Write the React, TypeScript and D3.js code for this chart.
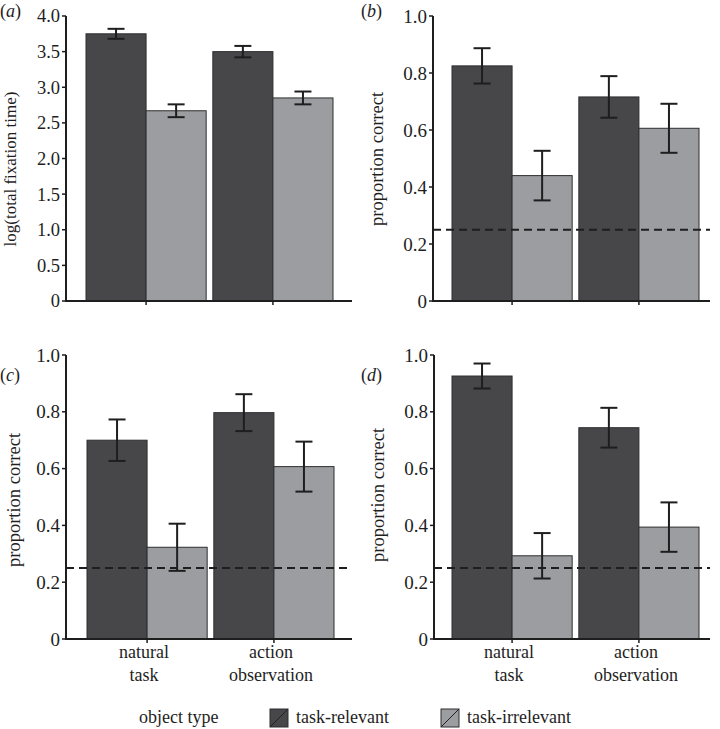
import React from "react";
import * as d3 from "d3";

const categories = ["natural task", "action observation"];
const seriesNames = ["task-relevant", "task-irrelevant"];

const aRelevant = [3.75, 3.5];
const aRelevantErr = [0.07, 0.08];
const aIrrelevant = [2.67, 2.85];
const aIrrelevantErr = [0.09, 0.09];

const bRelevant = [0.825, 0.716];
const bRelevantErr = [0.062, 0.073];
const bIrrelevant = [0.44, 0.606];
const bIrrelevantErr = [0.087, 0.086];

const cRelevant = [0.7, 0.797];
const cRelevantErr = [0.073, 0.065];
const cIrrelevant = [0.323, 0.607];
const cIrrelevantErr = [0.083, 0.088];

const dRelevant = [0.926, 0.744];
const dRelevantErr = [0.044, 0.07];
const dIrrelevant = [0.293, 0.394];
const dIrrelevantErr = [0.08, 0.087];

const ticksA = [0, 0.5, 1, 1.5, 2, 2.5, 3, 3.5, 4];
const ticksP = [0, 0.2, 0.4, 0.6, 0.8, 1.0];
const chanceLevel = 0.25;

const DARK = "#47474a";
const LIGHT = "#9c9da0";
const INK = "#1e1e1e";
const FONT = "Liberation Serif, DejaVu Serif, serif";

type PanelProps = {
  label: string;
  yLabel: string;
  yLabelX: number;
  yLabelY: number;
  yLabelSize: number;
  tickSize: number;
  rel: number[];
  relErr: number[];
  irr: number[];
  irrErr: number[];
  ticks: number[];
  yMax: number;
  axisX: number;
  axisRight: number;
  barStart: number;
  yTop: number;
  yBottom: number;
  labelX: number;
  labelY: number;
  chance?: boolean;
  xLabels?: boolean;
};

const st = (size: number) => ({ fontFamily: FONT, fontSize: `${size}px` });

function Panel(p: PanelProps) {
  const y = d3.scaleLinear().domain([0, p.yMax]).range([p.yBottom, p.yTop]);
  const groupW = 117;
  const gap = 13;
  const x0 = d3
    .scaleBand<string>()
    .domain(categories)
    .range([p.barStart, p.barStart + 2 * groupW + gap])
    .paddingInner(gap / (groupW + gap / 2) / 2)
    .paddingOuter(0);
  const x1 = d3.scaleBand<string>().domain(seriesNames).range([0, x0.bandwidth()]);
  const values = [p.rel, p.irr];
  const errs = [p.relErr, p.irrErr];
  const colors = [DARK, LIGHT];
  const fmt = (v: number) => (v === 0 ? "0" : d3.format(".1f")(v));
  const capHalf = 8.5;
  return (
    <g>
      <text x={p.labelX} y={p.labelY} style={st(18)} fill={INK}>
        (<tspan fontStyle="italic">{p.label}</tspan>)
      </text>
      <text
        transform={`translate(${p.yLabelX},${p.yLabelY}) rotate(-90)`}
        textAnchor="middle"
        style={st(p.yLabelSize)}
        fill={INK}
      >
        {p.yLabel}
      </text>
      {categories.map((c, ci) =>
        seriesNames.map((s, si) => {
          const bx = (x0(c) as number) + (x1(s) as number);
          const v = values[si][ci];
          return (
            <rect
              key={c + s}
              x={bx}
              y={y(v)}
              width={x1.bandwidth()}
              height={y(0) - y(v)}
              fill={colors[si]}
              stroke="#2e2e30"
              strokeWidth={1}
            />
          );
        })
      )}
      {p.chance && (
        <line
          x1={p.axisX}
          x2={p.axisRight}
          y1={y(chanceLevel)}
          y2={y(chanceLevel)}
          stroke={INK}
          strokeWidth={2}
          strokeDasharray="8,5"
        />
      )}
      {categories.map((c, ci) =>
        seriesNames.map((s, si) => {
          const cx = (x0(c) as number) + (x1(s) as number) + x1.bandwidth() / 2;
          const v = values[si][ci];
          const e = errs[si][ci];
          return (
            <g key={"e" + c + s} stroke={INK} strokeWidth={2}>
              <line x1={cx} x2={cx} y1={y(v + e)} y2={y(v - e)} />
              <line x1={cx - capHalf} x2={cx + capHalf} y1={y(v + e)} y2={y(v + e)} />
              <line x1={cx - capHalf} x2={cx + capHalf} y1={y(v - e)} y2={y(v - e)} />
            </g>
          );
        })
      )}
      <line x1={p.axisX} x2={p.axisX} y1={p.yTop} y2={p.yBottom + 1} stroke={INK} strokeWidth={2} />
      <line x1={p.axisX - 1} x2={p.axisRight} y1={p.yBottom} y2={p.yBottom} stroke={INK} strokeWidth={2} />
      {p.ticks.map((t) => (
        <g key={"t" + t}>
          <line x1={p.axisX - 4} x2={p.axisX} y1={y(t)} y2={y(t)} stroke={INK} strokeWidth={1.5} />
          <text
            x={p.axisX - 6}
            y={y(t)}
            dy="0.35em"
            textAnchor="end"
            style={st(p.tickSize)}
            fill={INK}
          >
            {fmt(t)}
          </text>
        </g>
      ))}
      {categories.map((c) => {
        const cx = (x0(c) as number) + x0.bandwidth() / 2;
        const words = c.split(" ");
        return (
          <g key={"x" + c}>
            <line x1={cx} x2={cx} y1={p.yBottom} y2={p.yBottom + 4} stroke={INK} strokeWidth={1.5} />
            {p.xLabels &&
              words.map((w, wi) => (
                <text
                  key={w}
                  x={cx - 3}
                  y={p.yBottom + 19 + wi * 23}
                  textAnchor="middle"
                  style={st(18)}
                  fill={INK}
                >
                  {w}
                </text>
              ))}
          </g>
        );
      })}
    </g>
  );
}

export default function App() {
  return (
    <svg width={720} height={729} style={{ position: "absolute", left: 0, top: 0, background: "#fff" }}>
      <Panel
        label="a"
        labelX={0}
        labelY={17}
        yLabel="log(total fixation time)"
        yLabelX={16}
        yLabelY={169}
        yLabelSize={17}
        tickSize={18.5}
        rel={aRelevant}
        relErr={aRelevantErr}
        irr={aIrrelevant}
        irrErr={aIrrelevantErr}
        ticks={ticksA}
        yMax={4}
        axisX={66}
        axisRight={352}
        barStart={86}
        yTop={16}
        yBottom={301}
      />
      <Panel
        label="b"
        labelX={361}
        labelY={17}
        yLabel="proportion correct"
        yLabelX={383}
        yLabelY={159}
        yLabelSize={18.5}
        tickSize={19}
        rel={bRelevant}
        relErr={bRelevantErr}
        irr={bIrrelevant}
        irrErr={bIrrelevantErr}
        ticks={ticksP}
        yMax={1}
        axisX={433}
        axisRight={710}
        barStart={452}
        yTop={16}
        yBottom={301}
        chance
      />
      <Panel
        label="c"
        labelX={0}
        labelY={381}
        yLabel="proportion correct"
        yLabelX={20}
        yLabelY={500}
        yLabelSize={18.5}
        tickSize={19}
        rel={cRelevant}
        relErr={cRelevantErr}
        irr={cIrrelevant}
        irrErr={cIrrelevantErr}
        ticks={ticksP}
        yMax={1}
        axisX={66}
        axisRight={352}
        barStart={87}
        yTop={355}
        yBottom={639}
        chance
        xLabels
      />
      <Panel
        label="d"
        labelX={361}
        labelY={381}
        yLabel="proportion correct"
        yLabelX={384}
        yLabelY={495}
        yLabelSize={18.5}
        tickSize={19}
        rel={dRelevant}
        relErr={dRelevantErr}
        irr={dIrrelevant}
        irrErr={dIrrelevantErr}
        ticks={ticksP}
        yMax={1}
        axisX={434}
        axisRight={710}
        barStart={452}
        yTop={355}
        yBottom={639}
        chance
        xLabels
      />
      <g fill={INK}>
        <text x={139} y={723} style={st(18)}>object type</text>
        {seriesNames.map((s, i) => {
          const sx = i === 0 ? 270 : 441;
          return (
            <g key={s}>
              <rect x={sx} y={709} width={18} height={18} fill={i === 0 ? DARK : LIGHT} stroke="#2e2e30" strokeWidth={1} />
              <line x1={sx} y1={727} x2={sx + 18} y2={709} stroke="#222" strokeWidth={1} />
              <text x={sx + 26} y={723} style={st(18)}>{s}</text>
            </g>
          );
        })}
      </g>
    </svg>
  );
}
